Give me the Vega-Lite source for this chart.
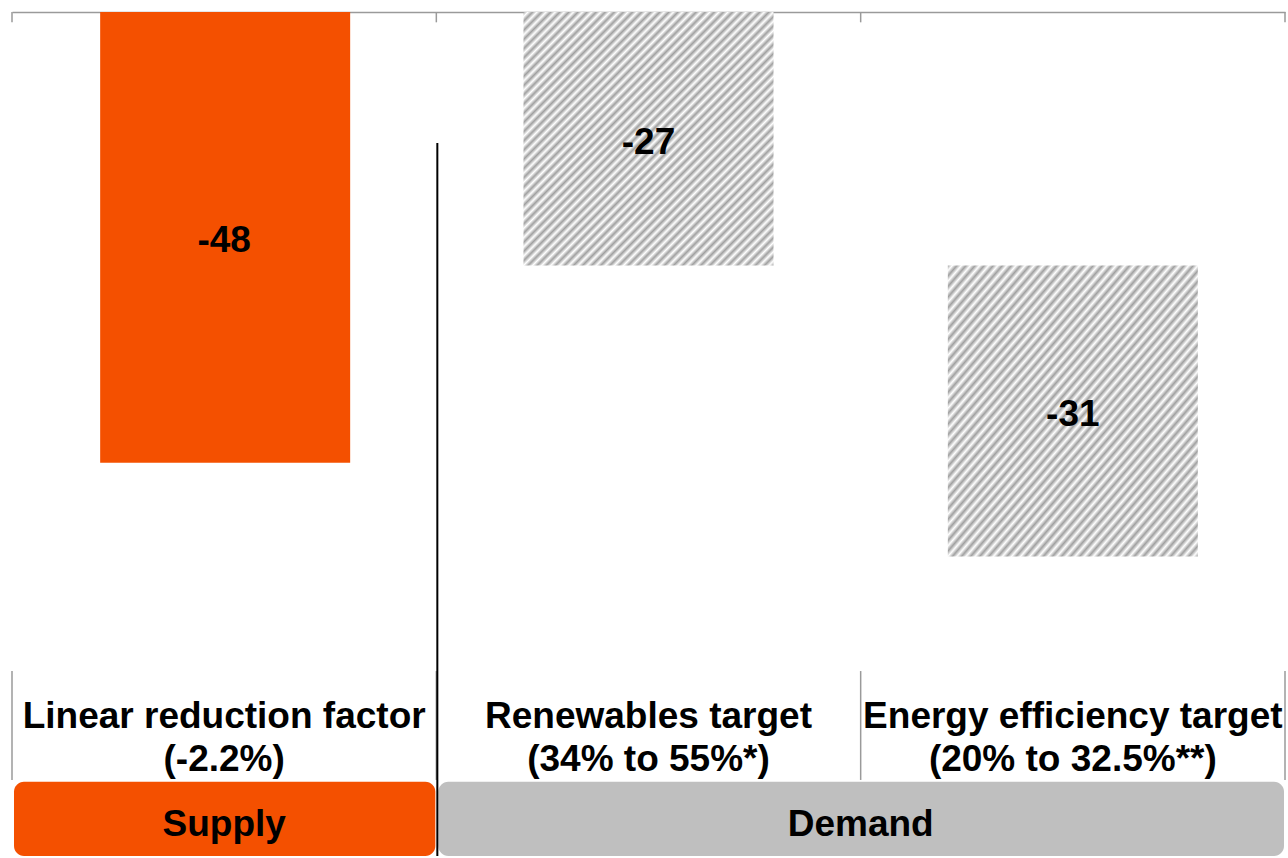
{
  "$schema": "https://vega.github.io/schema/vega-lite/v6.json",
  "width": 1273,
  "height": 844,
  "padding": {"left": 12, "top": 12, "right": 3, "bottom": 2},
  "autosize": {"type": "none"},
  "background": "#ffffff",
  "config": {"view": {"stroke": null}, "text": {"font": "Liberation Sans", "fontWeight": "bold", "color": "#000000"}},
  "datasets": {
    "bars": [
      {"order": 1, "category": "Linear reduction factor", "label": "Linear reduction factor\n(-2.2%)", "group": "Supply", "start": 0, "end": -48, "value": -48},
      {"order": 2, "category": "Renewables target", "label": "Renewables target\n(34% to 55%*)", "group": "Demand", "start": 0, "end": -27, "value": -27},
      {"order": 3, "category": "Energy efficiency target", "label": "Energy efficiency target\n(20% to 32.5%**)", "group": "Demand", "start": -27, "end": -58, "value": -31}
    ],
    "boundaries": [{"b": 0}, {"b": 1}, {"b": 2}, {"b": 3}],
    "groups": [
      {"group": "Supply", "first": 1, "last": 1},
      {"group": "Demand", "first": 2, "last": 3}
    ]
  },
  "layer": [
    {
      "data": {"name": "boundaries"},
      "mark": {"type": "rule", "color": "#9a9a9a", "strokeWidth": 1.5},
      "encoding": {
        "x": {"field": "b", "type": "quantitative", "scale": {"domain": [0, 3], "nice": false, "zero": false, "padding": 0}, "axis": {"orient": "top", "domain": true, "domainColor": "#9a9a9a", "domainWidth": 1.5, "ticks": false, "labels": false, "grid": false, "title": null}},
        "y": {"datum": 0, "type": "quantitative", "scale": {"domain": [-89.9, 0], "nice": false, "zero": false, "padding": 0}, "axis": null},
        "y2": {"datum": -1.1}
      }
    },
    {
      "data": {"name": "boundaries"},
      "mark": {"type": "rule", "color": "#9a9a9a", "strokeWidth": 1.5},
      "encoding": {
        "x": {"field": "b", "type": "quantitative"},
        "y": {"datum": -70.2, "type": "quantitative"},
        "y2": {"datum": -81.8}
      }
    },
    {
      "data": {"name": "bars"},
      "transform": [{"filter": "datum.group === 'Supply'"}, {"calculate": "datum.order - 0.5", "as": "center"}],
      "mark": {"type": "bar", "color": "#F45000", "width": 250, "xOffset": 1},
      "encoding": {
        "x": {"field": "center", "type": "quantitative"},
        "y": {"field": "start", "type": "quantitative"},
        "y2": {"field": "end"}
      }
    },
    {
      "data": {"name": "bars"},
      "transform": [{"filter": "datum.group === 'Demand'"}, {"calculate": "datum.order - 0.5", "as": "center"}],
      "mark": {
        "type": "bar",
        "width": 250,
        "color": {
          "gradient": "linear", "x1": 0, "y1": 0, "x2": 1, "y2": 1,
          "stops": [
            {"offset": 0, "color": "#a0a0a0"}, {"offset": 0.0091, "color": "#ffffff"}, {"offset": 0.0182, "color": "#a0a0a0"}, {"offset": 0.0273, "color": "#ffffff"}, {"offset": 0.0364, "color": "#a0a0a0"}, {"offset": 0.0455, "color": "#ffffff"}, {"offset": 0.0545, "color": "#a0a0a0"}, {"offset": 0.0636, "color": "#ffffff"}, {"offset": 0.0727, "color": "#a0a0a0"}, {"offset": 0.0818, "color": "#ffffff"}, {"offset": 0.0909, "color": "#a0a0a0"},
            {"offset": 0.1, "color": "#ffffff"}, {"offset": 0.1091, "color": "#a0a0a0"}, {"offset": 0.1182, "color": "#ffffff"}, {"offset": 0.1273, "color": "#a0a0a0"}, {"offset": 0.1364, "color": "#ffffff"}, {"offset": 0.1455, "color": "#a0a0a0"}, {"offset": 0.1545, "color": "#ffffff"}, {"offset": 0.1636, "color": "#a0a0a0"}, {"offset": 0.1727, "color": "#ffffff"}, {"offset": 0.1818, "color": "#a0a0a0"}, {"offset": 0.1909, "color": "#ffffff"},
            {"offset": 0.2, "color": "#a0a0a0"}, {"offset": 0.2091, "color": "#ffffff"}, {"offset": 0.2182, "color": "#a0a0a0"}, {"offset": 0.2273, "color": "#ffffff"}, {"offset": 0.2364, "color": "#a0a0a0"}, {"offset": 0.2455, "color": "#ffffff"}, {"offset": 0.2545, "color": "#a0a0a0"}, {"offset": 0.2636, "color": "#ffffff"}, {"offset": 0.2727, "color": "#a0a0a0"}, {"offset": 0.2818, "color": "#ffffff"}, {"offset": 0.2909, "color": "#a0a0a0"},
            {"offset": 0.3, "color": "#ffffff"}, {"offset": 0.3091, "color": "#a0a0a0"}, {"offset": 0.3182, "color": "#ffffff"}, {"offset": 0.3273, "color": "#a0a0a0"}, {"offset": 0.3364, "color": "#ffffff"}, {"offset": 0.3455, "color": "#a0a0a0"}, {"offset": 0.3545, "color": "#ffffff"}, {"offset": 0.3636, "color": "#a0a0a0"}, {"offset": 0.3727, "color": "#ffffff"}, {"offset": 0.3818, "color": "#a0a0a0"}, {"offset": 0.3909, "color": "#ffffff"},
            {"offset": 0.4, "color": "#a0a0a0"}, {"offset": 0.4091, "color": "#ffffff"}, {"offset": 0.4182, "color": "#a0a0a0"}, {"offset": 0.4273, "color": "#ffffff"}, {"offset": 0.4364, "color": "#a0a0a0"}, {"offset": 0.4455, "color": "#ffffff"}, {"offset": 0.4545, "color": "#a0a0a0"}, {"offset": 0.4636, "color": "#ffffff"}, {"offset": 0.4727, "color": "#a0a0a0"}, {"offset": 0.4818, "color": "#ffffff"}, {"offset": 0.4909, "color": "#a0a0a0"},
            {"offset": 0.5, "color": "#ffffff"}, {"offset": 0.5091, "color": "#a0a0a0"}, {"offset": 0.5182, "color": "#ffffff"}, {"offset": 0.5273, "color": "#a0a0a0"}, {"offset": 0.5364, "color": "#ffffff"}, {"offset": 0.5455, "color": "#a0a0a0"}, {"offset": 0.5545, "color": "#ffffff"}, {"offset": 0.5636, "color": "#a0a0a0"}, {"offset": 0.5727, "color": "#ffffff"}, {"offset": 0.5818, "color": "#a0a0a0"}, {"offset": 0.5909, "color": "#ffffff"},
            {"offset": 0.6, "color": "#a0a0a0"}, {"offset": 0.6091, "color": "#ffffff"}, {"offset": 0.6182, "color": "#a0a0a0"}, {"offset": 0.6273, "color": "#ffffff"}, {"offset": 0.6364, "color": "#a0a0a0"}, {"offset": 0.6455, "color": "#ffffff"}, {"offset": 0.6545, "color": "#a0a0a0"}, {"offset": 0.6636, "color": "#ffffff"}, {"offset": 0.6727, "color": "#a0a0a0"}, {"offset": 0.6818, "color": "#ffffff"}, {"offset": 0.6909, "color": "#a0a0a0"},
            {"offset": 0.7, "color": "#ffffff"}, {"offset": 0.7091, "color": "#a0a0a0"}, {"offset": 0.7182, "color": "#ffffff"}, {"offset": 0.7273, "color": "#a0a0a0"}, {"offset": 0.7364, "color": "#ffffff"}, {"offset": 0.7455, "color": "#a0a0a0"}, {"offset": 0.7545, "color": "#ffffff"}, {"offset": 0.7636, "color": "#a0a0a0"}, {"offset": 0.7727, "color": "#ffffff"}, {"offset": 0.7818, "color": "#a0a0a0"}, {"offset": 0.7909, "color": "#ffffff"},
            {"offset": 0.8, "color": "#a0a0a0"}, {"offset": 0.8091, "color": "#ffffff"}, {"offset": 0.8182, "color": "#a0a0a0"}, {"offset": 0.8273, "color": "#ffffff"}, {"offset": 0.8364, "color": "#a0a0a0"}, {"offset": 0.8455, "color": "#ffffff"}, {"offset": 0.8545, "color": "#a0a0a0"}, {"offset": 0.8636, "color": "#ffffff"}, {"offset": 0.8727, "color": "#a0a0a0"}, {"offset": 0.8818, "color": "#ffffff"}, {"offset": 0.8909, "color": "#a0a0a0"},
            {"offset": 0.9, "color": "#ffffff"}, {"offset": 0.9091, "color": "#a0a0a0"}, {"offset": 0.9182, "color": "#ffffff"}, {"offset": 0.9273, "color": "#a0a0a0"}, {"offset": 0.9364, "color": "#ffffff"}, {"offset": 0.9455, "color": "#a0a0a0"}, {"offset": 0.9545, "color": "#ffffff"}, {"offset": 0.9636, "color": "#a0a0a0"}, {"offset": 0.9727, "color": "#ffffff"}, {"offset": 0.9818, "color": "#a0a0a0"}, {"offset": 0.9909, "color": "#ffffff"},
            {"offset": 1, "color": "#a0a0a0"}
          ]
        }
      },
      "encoding": {
        "x": {"field": "center", "type": "quantitative"},
        "y": {"field": "start", "type": "quantitative"},
        "y2": {"field": "end"}
      }
    },
    {
      "data": {"name": "bars"},
      "transform": [{"calculate": "datum.order - 0.5", "as": "center"}, {"calculate": "(datum.start + datum.end) / 2", "as": "mid"}],
      "mark": {"type": "text", "fontSize": 37, "baseline": "middle", "align": "center", "dy": 4},
      "encoding": {
        "x": {"field": "center", "type": "quantitative"},
        "y": {"field": "mid", "type": "quantitative"},
        "text": {"field": "value", "type": "nominal"}
      }
    },
    {
      "data": {"name": "bars"},
      "transform": [{"calculate": "datum.order - 0.5", "as": "center"}],
      "mark": {"type": "text", "fontSize": 37, "baseline": "alphabetic", "align": "center", "lineBreak": "\n", "lineHeight": 43},
      "encoding": {
        "x": {"field": "center", "type": "quantitative"},
        "y": {"datum": -76.3, "type": "quantitative"},
        "text": {"field": "label", "type": "nominal"}
      }
    },
    {
      "data": {"name": "groups"},
      "transform": [{"calculate": "datum.first - 1", "as": "from"}],
      "mark": {"type": "rect", "cornerRadius": 10, "xOffset": 2, "x2Offset": -1},
      "encoding": {
        "x": {"field": "from", "type": "quantitative"},
        "x2": {"field": "last"},
        "y": {"datum": -82, "type": "quantitative"},
        "y2": {"datum": -89.9},
        "color": {"field": "group", "type": "nominal", "scale": {"domain": ["Supply", "Demand"], "range": ["#F45000", "#BFBFBF"]}, "legend": null}
      }
    },
    {
      "data": {"name": "groups"},
      "transform": [{"calculate": "(datum.first - 1 + datum.last) / 2", "as": "center"}],
      "mark": {"type": "text", "fontSize": 37, "baseline": "middle", "align": "center"},
      "encoding": {
        "x": {"field": "center", "type": "quantitative"},
        "y": {"datum": -86.6, "type": "quantitative"},
        "text": {"field": "group", "type": "nominal"}
      }
    },
    {
      "data": {"name": "boundaries"},
      "transform": [{"filter": "datum.b === 1"}],
      "mark": {"type": "rule", "color": "#000000", "strokeWidth": 2, "xOffset": 1},
      "encoding": {
        "x": {"field": "b", "type": "quantitative"},
        "y": {"datum": -13.95, "type": "quantitative"},
        "y2": {"datum": -89.9}
      }
    }
  ]
}
